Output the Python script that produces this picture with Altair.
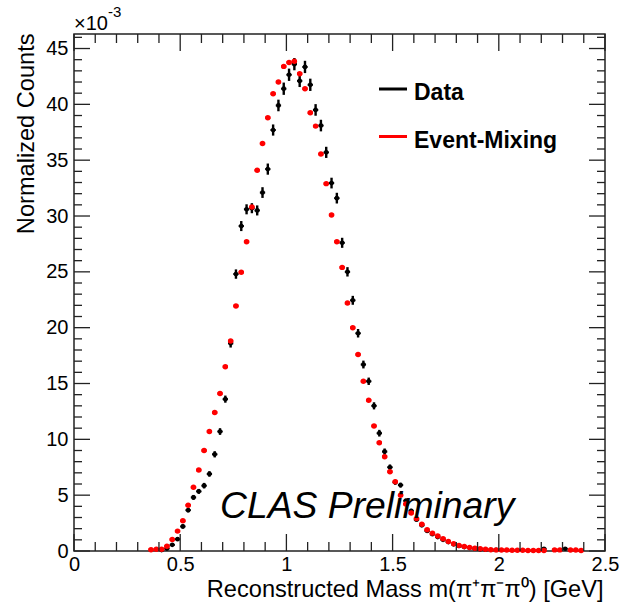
import altair as alt
import pandas as pd

FONT = "Liberation Sans"

# Histogram binning of the reconstructed 3-pion mass (GeV)
BIN_START = 0.35
BIN_WIDTH = 0.025

# Normalized counts (x 10^-3) per bin, starting at 0.35 GeV
event_mixing = [
    0.12, 0.15, 0.15, 0.43, 1.03, 1.78, 2.7, 4.1, 5.7, 7.25,
    9.0, 10.7, 12.4, 14.1, 16.5, 18.8, 21.95, 24.97, 27.7, 30.8,
    34.1, 36.5, 38.8, 40.95, 42.0, 43.4, 43.75, 43.85, 42.75, 41.4,
    39.25, 38.05, 35.55, 32.9, 30.1, 27.7, 25.4, 22.2, 20.0, 17.6,
    15.2, 13.5, 11.2, 9.7, 8.45, 7.1, 6.2, 5.0, 4.2, 3.4,
    2.9, 2.4, 1.9, 1.6, 1.35, 1.1, 0.85, 0.65, 0.5, 0.4,
    0.32, 0.25, 0.2, 0.15, 0.12, 0.1, 0.09, 0.08, 0.07, 0.06,
    0.06, 0.05, 0.05, 0.05, 0.04, None, 0.1, 0.1, None, 0.08,
    0.08, 0.04, None, None,
]

data_counts = [
    None, None, 0.08, 0.22, 0.55, 1.06, 2.2, 3.66, 4.8, 5.34,
    5.85, 6.9, 8.66, 10.7, 13.6, 18.6, 24.8, 29.1, 30.6, 30.7,
    30.5, 32.1, 34.2, 37.7, 39.9, 41.4, 42.65, 43.6, 42.1, 43.35,
    41.75, 39.5, 38.1, 35.7, 32.95, 31.6, 27.6, 25.0, 22.45, 19.5,
    16.7, 15.2, 13.0, 10.55, 8.9, 7.5, 6.15, 5.9, 4.5, 3.6,
    2.8, 2.3, 1.8, 1.5, 1.25, 1.0, 0.8, 0.6, 0.45, 0.35,
    0.28, 0.2, 0.15, 0.12, None, 0.1, None, None, None, None,
    None, None, None, None, 0.2, None, None, None, 0.2, None,
    None, None, None, None,
]

data_errors = [
    None, None, 0.05, 0.08, 0.1, 0.15, 0.2, 0.2, 0.22, 0.22,
    0.25, 0.25, 0.28, 0.3, 0.32, 0.38, 0.42, 0.45, 0.45, 0.45,
    0.45, 0.48, 0.5, 0.5, 0.52, 0.55, 0.55, 0.55, 0.55, 0.55,
    0.55, 0.52, 0.52, 0.5, 0.48, 0.48, 0.45, 0.42, 0.4, 0.38,
    0.35, 0.33, 0.32, 0.3, 0.28, 0.25, 0.22, 0.22, 0.2, 0.18,
    0.15, 0.15, 0.12, 0.12, 0.1, 0.1, 0.08, 0.08, 0.07, 0.06,
    0.05, 0.05, 0.05, 0.05, None, 0.05, None, None, None, None,
    None, None, None, None, 0.05, None, None, None, 0.05, None,
    None, None, None, None,
]

legend_labels = ["Data", "Event-Mixing"]
legend_colors = ["#000000", "#ff0000"]

x_major = [0, 0.5, 1, 1.5, 2, 2.5]
x_minor = [round(0.1 * i, 1) for i in range(26) if i % 5 != 0]
y_major = [0, 5, 10, 15, 20, 25, 30, 35, 40, 45]
y_minor = [i for i in range(47) if i % 5 != 0]


def histogram_frame(values, errors=None):
    rows = []
    for i, v in enumerate(values):
        if v is None:
            continue
        lo = BIN_START + i * BIN_WIDTH
        row = {"lo": lo, "hi": lo + BIN_WIDTH, "mass": lo + BIN_WIDTH / 2, "counts": v}
        if errors is not None:
            row["err_lo"] = v - errors[i]
            row["err_hi"] = v + errors[i]
        rows.append(row)
    return pd.DataFrame(rows)


mix_df = histogram_frame(event_mixing)
data_df = histogram_frame(data_counts, data_errors)

W, H = 531, 517
x_scale = alt.Scale(domain=[0, 2.5], nice=False, zero=False)
y_scale = alt.Scale(domain=[0, 46.3], nice=False, zero=False)

x_axis = alt.Axis(
    values=x_major, format="~g", ticks=False, tickSize=0, domain=False, grid=False,
    labelFont=FONT, labelFontSize=20, labelColor="black", labelPadding=3,
    labelFlush=False, labelOverlap=False,
    title="Reconstructed Mass m(π⁺π⁻π⁰) [GeV]", titleFont=FONT, titleFontSize=23.6,
    titleFontWeight="normal", titleColor="black", titleAlign="right",
    titleBaseline="alphabetic", titleX=W - 2, titleY=45,
)
y_axis = alt.Axis(
    values=y_major, format="d", ticks=False, tickSize=0, domain=False, grid=False,
    labelFont=FONT, labelFontSize=20, labelColor="black", labelPadding=6,
    labelOverlap=False,
    title="Normalized Counts", titleFont=FONT, titleFontSize=23.6,
    titleFontWeight="normal", titleColor="black", titleAngle=270,
    titleAlign="right", titleBaseline="alphabetic", titleX=-41, titleY=-1,
)


def X(field):
    return alt.X(field, scale=x_scale, axis=x_axis)


def Y(field):
    return alt.Y(field, scale=y_scale, axis=y_axis)


# Data: bin-width bars, vertical error bars and markers
data_h = alt.Chart(data_df).mark_rule(color="black", strokeWidth=2).encode(
    x=X("lo:Q"), x2="hi:Q", y=Y("counts:Q"),
)
data_v = alt.Chart(data_df).mark_rule(color="black", strokeWidth=2.4).encode(
    x=X("mass:Q"), y=Y("err_lo:Q"), y2="err_hi:Q",
)
data_pts = alt.Chart(data_df).mark_circle(color="black", size=22, opacity=1).encode(
    x=X("mass:Q"), y=Y("counts:Q"),
)

# Event-mixing: bin-width bars and markers
mix_h = alt.Chart(mix_df).mark_rule(color="#ff0000", strokeWidth=2.5).encode(
    x=X("lo:Q"), x2="hi:Q", y=Y("counts:Q"),
)
mix_pts = alt.Chart(mix_df).mark_circle(color="#ff0000", size=30, opacity=1).encode(
    x=X("mass:Q"), y=Y("counts:Q"),
)


# Inward-pointing ticks on all four sides of the frame
def x_ticks(values, length):
    df = pd.DataFrame({"v": values})
    bottom = alt.Chart(df).mark_rule(color="#222", strokeWidth=1.3).encode(
        x=X("v:Q"), y=alt.value(H), y2=alt.value(H - length),
    )
    top = alt.Chart(df).mark_rule(color="#222", strokeWidth=1.3).encode(
        x=X("v:Q"), y=alt.value(0), y2=alt.value(length),
    )
    return [bottom, top]


def y_ticks(values, length):
    df = pd.DataFrame({"v": values})
    left = alt.Chart(df).mark_rule(color="#222", strokeWidth=1.3).encode(
        y=Y("v:Q"), x=alt.value(0), x2=alt.value(length),
    )
    right = alt.Chart(df).mark_rule(color="#222", strokeWidth=1.3).encode(
        y=Y("v:Q"), x=alt.value(W), x2=alt.value(W - length),
    )
    return [left, right]


ticks = x_ticks(x_major, 17) + x_ticks(x_minor, 9) + y_ticks(y_major, 16) + y_ticks(y_minor, 8)

# Axis exponent
exp_base = alt.Chart(pd.DataFrame({"t": ["×10"]})).mark_text(
    font=FONT, fontSize=20, align="left", baseline="alphabetic", color="black"
).encode(text="t:N", x=alt.value(0), y=alt.value(-4))
exp_pow = alt.Chart(pd.DataFrame({"t": ["-3"]})).mark_text(
    font=FONT, fontSize=15, align="left", baseline="alphabetic", color="black"
).encode(text="t:N", x=alt.value(34), y=alt.value(-17))

# Legend
legend_layers = []
for i, (lab, col) in enumerate(zip(legend_labels, legend_colors)):
    row_y = 55 + 47.5 * i
    legend_layers.append(
        alt.Chart(pd.DataFrame({"t": [lab]})).mark_rule(color=col, strokeWidth=3).encode(
            x=alt.value(305), x2=alt.value(333), y=alt.value(row_y)
        )
    )
    legend_layers.append(
        alt.Chart(pd.DataFrame({"t": [lab]})).mark_text(
            font=FONT, fontSize=23, fontWeight="bold", align="left",
            baseline="alphabetic", color="black"
        ).encode(text="t:N", x=alt.value(340), y=alt.value(row_y + 11))
    )

prelim = alt.Chart(pd.DataFrame({"t": ["CLAS Preliminary"]})).mark_text(
    font=FONT, fontSize=37.3, fontStyle="italic", align="left",
    baseline="alphabetic", color="black"
).encode(text="t:N", x=alt.value(146), y=alt.value(484))

chart = alt.layer(
    data_h, data_v, data_pts, mix_h, mix_pts, *ticks,
    exp_base, exp_pow, *legend_layers, prelim,
).properties(
    width=W, height=H,
    padding={"left": 74, "top": 34, "right": 24, "bottom": 62},
    autosize=alt.AutoSizeParams(type="none"),
    background="white",
).configure_view(stroke="#222", strokeWidth=1.5)

chart.save("out.html", embed_options={"renderer": "svg", "actions": False})
